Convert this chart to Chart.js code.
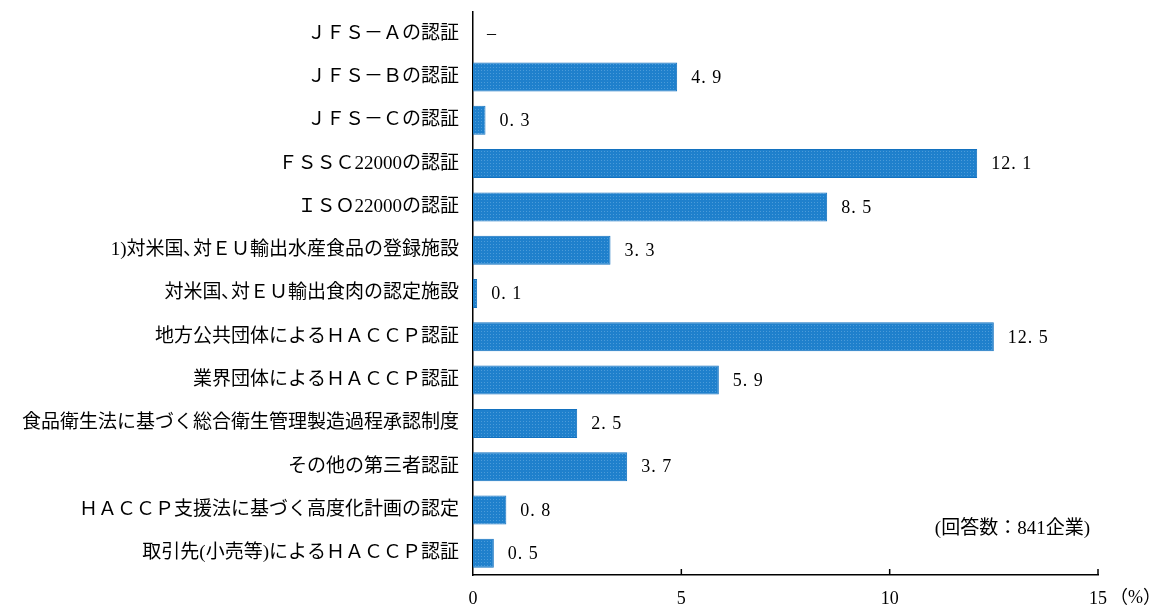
<!DOCTYPE html>
<html>
<head>
<meta charset="utf-8">
<script src="https://cdn.jsdelivr.net/npm/chart.js@4.4.1/dist/chart.umd.min.js"></script>
<style>
  html, body { margin: 0; padding: 0; background: #fff; }
  #wrap { width: 1165px; height: 606px; }
</style>
</head>
<body>
<div id="wrap"><canvas id="myChart" width="1165" height="606"></canvas></div>
<script>
// Data (%, 841 companies)
var categories = [
  "ＪＦＳ－Ａの認証",
  "ＪＦＳ－Ｂの認証",
  "ＪＦＳ－Ｃの認証",
  "ＦＳＳＣ22000の認証",
  "ＩＳＯ22000の認証",
  "1)対米国､対ＥＵ輸出水産食品の登録施設",
  "対米国､対ＥＵ輸出食肉の認定施設",
  "地方公共団体によるＨＡＣＣＰ認証",
  "業界団体によるＨＡＣＣＰ認証",
  "食品衛生法に基づく総合衛生管理製造過程承認制度",
  "その他の第三者認証",
  "ＨＡＣＣＰ支援法に基づく高度化計画の認定",
  "取引先(小売等)によるＨＡＣＣＰ認証"
];
var values = [0, 4.9, 0.3, 12.1, 8.5, 3.3, 0.1, 12.5, 5.9, 2.5, 3.7, 0.8, 0.5];
var valueLabels = ["–", "4.9", "0.3", "12.1", "8.5", "3.3", "0.1", "12.5", "5.9", "2.5", "3.7", "0.8", "0.5"];
var xTicks = [0, 5, 10, 15];
var unitLabel = "（%）";
var noteText = "(回答数：841企業)";

var FONT = '"Liberation Serif", "Noto Sans CJK JP", serif';

// Dotted blue fill like the original bars
function makePattern() {
  var c = document.createElement("canvas");
  c.width = 3; c.height = 3;
  var g = c.getContext("2d");
  g.fillStyle = "#1f80cc";
  g.fillRect(0, 0, 3, 3);
  g.fillStyle = "#4b9bd9";
  g.fillRect(1, 1, 1, 1);
  return g.createPattern(c, "repeat");
}

// Value labels, inner ticks, unit and note
var extras = {
  id: "extras",
  afterDatasetsDraw: function(chart) {
    var ctx = chart.ctx;
    var xs = chart.scales.x;
    var meta = chart.getDatasetMeta(0);
    ctx.save();
    ctx.fillStyle = "#000";
    ctx.font = "18px " + FONT;
    ctx.textBaseline = "middle";
    ctx.textAlign = "left";
    ctx.letterSpacing = "1px";
    meta.data.forEach(function(bar, i) {
      // the original prints the decimal point in a wide cell
      var txt = valueLabels[i].replace(".", ". ");
      ctx.fillText(txt, bar.x + 14, bar.y + 1);
    });
    ctx.letterSpacing = "0px";

    // tick marks pointing up into the plot
    ctx.strokeStyle = "#000";
    ctx.lineWidth = 1.5;
    xTicks.forEach(function(v) {
      if (v === 0) return;
      var px = xs.getPixelForValue(v);
      ctx.beginPath();
      ctx.moveTo(px, xs.top);
      ctx.lineTo(px, xs.top - 6);
      ctx.stroke();
    });

    ctx.font = "18px " + FONT;
    ctx.textAlign = "left";
    ctx.fillText(unitLabel, xs.right + 12, xs.top + 23);

    ctx.font = "19px " + FONT;
    ctx.textAlign = "right";
    ctx.fillText(noteText, xs.right - 8, chart.chartArea.bottom - 46);
    ctx.restore();
  }
};

var ctx = document.getElementById("myChart");
var myChart = new Chart(ctx, {
  type: "bar",
  data: {
    labels: categories,
    datasets: [{
      data: values,
      backgroundColor: makePattern(),
      borderColor: "#1371bf",
      borderWidth: 1,
      borderSkipped: "left",
      barPercentage: 0.67,
      categoryPercentage: 1.0
    }]
  },
  options: {
    indexAxis: "y",
    responsive: false,
    animation: false,
    layout: { padding: { top: 12, right: 67, bottom: 0, left: 0 } },
    plugins: {
      legend: { display: false },
      tooltip: { enabled: false }
    },
    scales: {
      x: {
        min: 0,
        max: 15,
        afterBuildTicks: function(s) {
          s.ticks = xTicks.map(function(v) { return { value: v }; });
        },
        afterFit: function(s) {
          s.height = 31;
          s.paddingLeft = 0; s.paddingRight = 0;
        },
        grid: { display: false, drawTicks: false },
        border: { display: true, color: "#000", width: 1.5 },
        ticks: {
          padding: 13,
          color: "#000",
          font: { family: FONT, size: 18 },
          maxRotation: 0
        }
      },
      y: {
        afterFit: function(s) {
          s.width = 473;
          s.paddingTop = 0; s.paddingBottom = 0;
        },
        grid: { display: false, drawTicks: false },
        border: { display: true, color: "#000", width: 1.5 },
        ticks: {
          padding: 14,
          color: "#000",
          font: { family: FONT, size: 19 }
        }
      }
    }
  },
  plugins: [extras]
});
</script>
</body>
</html>
